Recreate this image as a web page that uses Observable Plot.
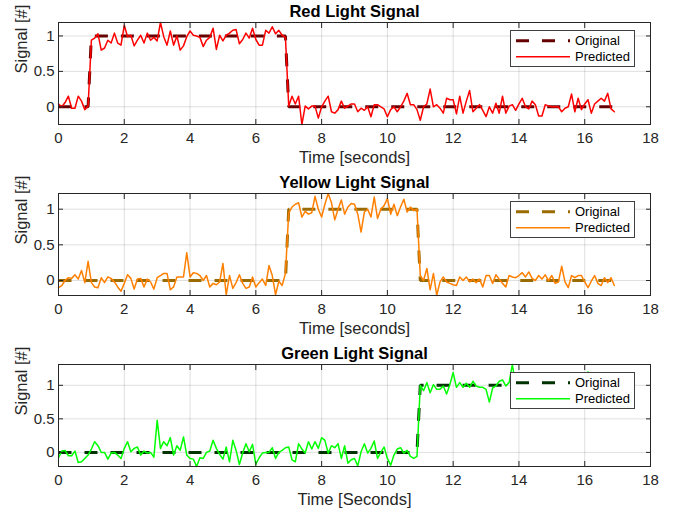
<!DOCTYPE html>
<html><head><meta charset="utf-8">
<script src="https://cdn.jsdelivr.net/npm/d3@7"></script>
<script src="https://cdn.jsdelivr.net/npm/@observablehq/plot@0.6"></script>
<style>
body{margin:0;background:#fff;}
#chart{width:675px;}
#chart svg{display:block;}
</style></head><body><div id="chart"></div>
<script>
// sampling grid of the signals (seconds)
const T0 = 0, DT = 0.1;
const xTicks = [0, 2, 4, 6, 8, 10, 12, 14, 16, 18];
const yTicks = [0, 0.5, 1];
const yTickLabels = ["0", "0.5", "1"];
const titles = ["Red Light Signal", "Yellow Light Signal", "Green Light Signal"];
const xLabels = ["Time [seconds]", "Time [seconds]", "Time [Seconds]"];
const yLabel = "Signal [#]";
const legendLabels = ["Original", "Predicted"];

// predicted signals, one value per 0.1 s from 0.0 to 16.9
const redPredicted = [
  0.04, 0.0, 0.06, 0.15, -0.02, -0.02, 0.15, 0.08, -0.04, 0.01,
  0.94, 0.97, 1.03, 0.8, 0.83, 0.94, 0.9, 1.04, 0.9, 0.87,
  1.15, 0.99, 1.01, 0.86, 0.94, 1.01, 0.9, 1.04, 0.94, 0.98,
  0.93, 1.19, 0.99, 0.87, 1.07, 0.87, 1.0, 0.8, 0.86, 0.99,
  1.07, 1.01, 1.0, 0.98, 0.85, 0.94, 0.98, 1.11, 0.81, 1.01,
  0.93, 1.01, 1.04, 1.08, 1.09, 0.89, 0.95, 1.04, 0.97, 1.11,
  0.95, 0.87, 0.87, 1.08, 1.04, 1.13, 1.03, 1.08, 1.01, 0.98,
  0.01, 0.15, 0.04, 0.15, -0.25, 0.01, -0.03, 0.01, 0.01, -0.16,
  0.0, 0.08, 0.15, -0.07, -0.09, -0.04, 0.08, -0.02, 0.01, 0.04,
  0.04, -0.07, -0.02, -0.05, 0.0, -0.14, 0.03, 0.03, 0.0, -0.03,
  -0.14, -0.04, 0.0, -0.07, 0.0, 0.08, 0.19, 0.03, 0.03, -0.04,
  -0.19, 0.0, 0.04, 0.25, 0.0, 0.03, -0.02, -0.09, 0.12, 0.1,
  0.1, -0.1, 0.15, -0.09, 0.08, 0.23, -0.07, -0.02, 0.03, -0.05,
  -0.14, 0.0, -0.09, 0.05, -0.09, 0.15, -0.09, 0.01, 0.03, -0.05,
  0.04, 0.12, 0.0, -0.03, 0.08, 0.03, -0.13, -0.13, 0.03, 0.01,
  0.0, 0.0, 0.0, -0.07, -0.02, 0.0, 0.18, -0.07, 0.12, -0.04,
  0.04, 0.1, -0.09, 0.04, 0.08, 0.12, 0.08, 0.19, -0.03, -0.07
];
const yellowPredicted = [
  -0.1, -0.07, 0.0, 0.04, 0.03, 0.08, 0.02, 0.14, -0.03, 0.27,
  -0.03, -0.09, -0.1, 0.04, -0.03, 0.05, 0.03, -0.02, -0.09, -0.15,
  -0.04, 0.08, 0.03, -0.12, 0.02, 0.03, -0.09, 0.02, -0.02, -0.12,
  0.04, 0.07, 0.1, 0.1, -0.13, -0.09, 0.05, 0.05, 0.05, 0.39,
  0.05, 0.11, 0.1, 0.07, 0.0, 0.07, -0.09, -0.04, -0.06, -0.02,
  0.24, -0.2, 0.07, -0.11, -0.03, 0.08, -0.04, -0.11, -0.09, 0.05,
  -0.09, -0.03, 0.02, -0.07, 0.21, 0.07, -0.2, -0.01, -0.07, 0.1,
  0.95, 1.03, 1.07, 1.09, 0.89, 0.97, 0.93, 0.95, 1.18, 1.0,
  0.89, 1.07, 1.22, 1.09, 0.85, 1.0, 1.13, 0.93, 1.03, 1.08,
  1.07, 0.93, 0.68, 0.96, 1.0, 0.89, 1.17, 0.87, 1.0, 1.05,
  1.15, 0.93, 1.07, 0.91, 1.03, 1.14, 0.96, 1.03, 0.98, 1.0,
  0.07, 0.0, 0.17, -0.13, 0.1, -0.21, -0.02, 0.05, -0.02, -0.04,
  -0.06, -0.07, 0.05, 0.0, 0.05, -0.02, 0.02, -0.03, 0.02, -0.09,
  0.07, 0.07, -0.04, 0.08, 0.02, -0.04, -0.09, 0.07, 0.05, 0.04,
  0.07, 0.11, 0.05, 0.12, 0.03, 0.0, 0.07, 0.02, 0.08, 0.0,
  0.07, -0.04, -0.02, 0.2, -0.02, -0.1, 0.07, 0.04, 0.07, 0.07,
  -0.02, -0.1, -0.01, 0.07, -0.04, -0.07, 0.04, -0.03, 0.04, -0.07
];
const greenPredicted = [
  -0.08, 0.02, 0.03, -0.05, -0.05, 0.02, -0.15, -0.14, -0.09, -0.04,
  0.05, 0.16, 0.1, 0.0, 0.0, -0.1, -0.01, 0.0, -0.04, -0.09,
  0.06, 0.16, 0.01, 0.06, 0.08, -0.04, 0.02, -0.01, 0.0, -0.07,
  0.48, 0.06, 0.16, 0.1, 0.22, -0.04, 0.1, 0.03, 0.23, -0.04,
  -0.09, -0.1, -0.21, -0.08, -0.09, 0.0, 0.02, 0.18, 0.06, -0.03,
  -0.1, 0.08, -0.14, 0.18, 0.03, -0.18, -0.01, 0.13, 0.01, 0.12,
  -0.18, -0.08, -0.01, 0.0, 0.0, 0.07, -0.09, 0.0, 0.03, 0.07,
  0.08, -0.11, -0.14, 0.13, 0.05, -0.01, 0.16, 0.05, 0.16, 0.06,
  0.22, 0.18, -0.01, 0.1, 0.07, 0.13, -0.09, 0.1, -0.16, -0.11,
  -0.09, -0.2, 0.01, 0.13, -0.01, 0.06, 0.17, -0.09, 0.0, 0.08,
  -0.09, -0.19, -0.04, 0.05, 0.07, -0.01, 0.03, -0.06, -0.09, -0.06,
  1.0, 0.92, 1.04, 0.89, 1.01, 0.94, 0.94, 0.99, 0.87, 1.01,
  1.19, 0.97, 1.04, 0.97, 1.03, 0.97, 1.06, 0.99, 0.97, 0.97,
  0.94, 0.75, 0.96, 0.99, 1.06, 1.08, 0.99, 1.04, 1.31, 1.0,
  1.05, 0.95, 1.1, 0.98, 1.02, 0.93, 1.07, 1.0, 0.96, 1.04,
  0.97, 1.08, 0.94, 1.02, 1.05, 0.92, 1.0, 1.06, 0.98, 1.1,
  1.03, 1.2, 0.97, 1.04, 0.99, 1.07, 0.95, 1.02, 1.0, 0.98
];

// original (ground-truth) signals: corner points of the step functions
const redOriginalT = [0, 0.9, 1.0, 6.9, 7.0, 16.9];
const redOriginalV = [0, 0, 1, 1, 0, 0];
const yellowOriginalT = [0, 6.9, 7.0, 10.9, 11.0, 16.9];
const yellowOriginalV = [0, 0, 1, 1, 0, 0];
const greenOriginalT = [0, 10.9, 11.0, 16.9];
const greenOriginalV = [0, 0, 1, 1];

const FONT = "'Liberation Sans', Arial, Helvetica, sans-serif";
const INK = "#262626";

function panel({title, xlabel, pred, origT, origV, predColor, origColor, height, marginBottom}) {
  const time = pred.map((_, i) => +(T0 + i * DT).toFixed(1));
  const predData = pred.map((v, i) => ({t: time[i], v}));
  const origData = origT.map((t, i) => ({t, v: origV[i]}));
  const svg = Plot.plot({
    width: 675, height,
    marginTop: 22, marginBottom, marginLeft: 58, marginRight: 25,
    style: {fontFamily: FONT, fontSize: "15px", color: INK, background: "#fff"},
    x: {domain: [0, 18]},
    y: {domain: d3.extent(pred)},
    marks: [
      Plot.gridX(xTicks, {stroke: INK, strokeOpacity: 0.15}),
      Plot.gridY(yTicks, {stroke: INK, strokeOpacity: 0.15}),
      Plot.line(origData, {x: "t", y: "v", stroke: origColor, strokeWidth: 3, strokeDasharray: "13,13", strokeLinecap: "butt", strokeLinejoin: "miter"}),
      Plot.line(predData, {x: "t", y: "v", stroke: predColor, strokeWidth: 1.5}),
      Plot.frame({stroke: INK, strokeWidth: 1}),
      // tick labels only
      Plot.axisX(xTicks, {anchor: "bottom", tickSize: 0, tickPadding: 8, fontSize: 15, label: null}),
      Plot.axisY(yTicks, {anchor: "left", tickSize: 0, tickPadding: 4, fontSize: 15, label: null, tickFormat: d => yTickLabels[yTicks.indexOf(d)]}),
      // inward tick marks on all four sides
      Plot.axisX(xTicks, {anchor: "bottom", tickSize: -5, fill: "none", label: null}),
      Plot.axisX(xTicks, {anchor: "top", tickSize: -5, fill: "none", label: null}),
      Plot.axisY(yTicks, {anchor: "left", tickSize: -5, fill: "none", label: null}),
      Plot.axisY(yTicks, {anchor: "right", tickSize: -5, fill: "none", label: null}),
      Plot.text([title], {frameAnchor: "top", lineAnchor: "middle", dy: -11, fontWeight: "bold", fontSize: 16.5, fill: "#000"}),
      Plot.text([xlabel], {frameAnchor: "bottom", lineAnchor: "middle", dy: 33, fontSize: 16.5}),
      Plot.text([yLabel], {frameAnchor: "left", lineAnchor: "middle", dx: -36.5, rotate: -90, fontSize: 16.5})
    ]
  });
  // legend box (top-right inside the axes)
  const g = d3.select(svg).append("g")
    .attr("font-family", FONT).attr("font-size", 13).attr("fill", "#000").attr("text-anchor", "start");
  g.append("rect").attr("x", 510.5).attr("y", 30.5).attr("width", 124).attr("height", 36)
    .attr("fill", "#fff").attr("stroke", "#404040").attr("stroke-width", 1);
  const rows = [40.7, 56.7];
  g.append("line").attr("x1", 516).attr("x2", 570).attr("y1", rows[0]).attr("y2", rows[0])
    .attr("stroke", origColor).attr("stroke-width", 3).attr("stroke-dasharray", "13,13");
  g.append("line").attr("x1", 516).attr("x2", 570).attr("y1", rows[1]).attr("y2", rows[1])
    .attr("stroke", predColor).attr("stroke-width", 1.5);
  legendLabels.forEach((s, i) => {
    g.append("text").attr("x", 575).attr("y", rows[i]).attr("dy", "0.35em").attr("text-anchor", "start").text(s);
  });
  return svg;
}

const root = document.getElementById("chart");
root.appendChild(panel({title: titles[0], xlabel: xLabels[0], pred: redPredicted, origT: redOriginalT, origV: redOriginalV, predColor: "#ff0000", origColor: "#660000", height: 171, marginBottom: 47}));
root.appendChild(panel({title: titles[1], xlabel: xLabels[1], pred: yellowPredicted, origT: yellowOriginalT, origV: yellowOriginalV, predColor: "#ff8000", origColor: "#9a6b00", height: 171, marginBottom: 47}));
root.appendChild(panel({title: titles[2], xlabel: xLabels[2], pred: greenPredicted, origT: greenOriginalT, origV: greenOriginalV, predColor: "#00ff00", origColor: "#003300", height: 170, marginBottom: 46}));
</script>
</body></html>
